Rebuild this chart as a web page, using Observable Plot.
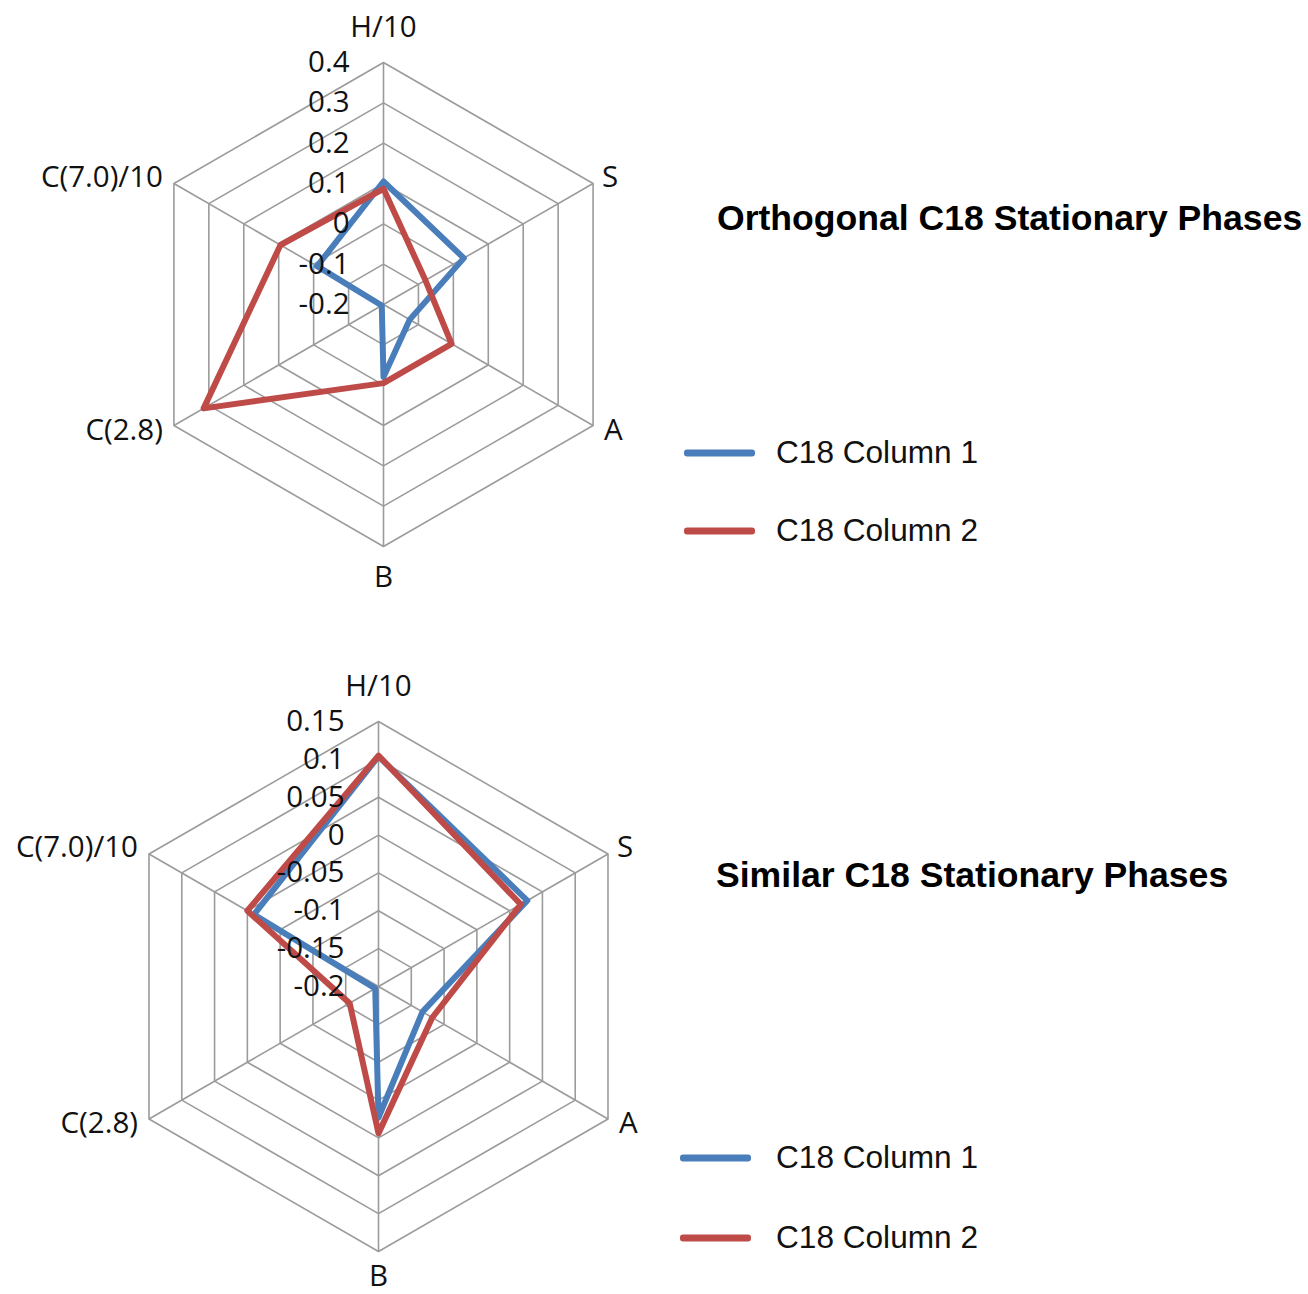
<!DOCTYPE html>
<html><head><meta charset="utf-8">
<script src="https://cdn.jsdelivr.net/npm/d3@7"></script>
<script src="https://cdn.jsdelivr.net/npm/@observablehq/plot@0.6"></script>
<style>
body{margin:0;background:#fff;}
#root{position:relative;width:1308px;height:1294px;overflow:hidden;background:#fff;}
.panel{position:absolute;left:0;}
.title{position:absolute;font-family:"Liberation Sans",Arial,sans-serif;font-weight:bold;font-size:35.6px;line-height:1;white-space:nowrap;color:#000;transform:translateY(-50%);}
.legend{position:absolute;font-family:"Liberation Sans",Arial,sans-serif;font-size:31.6px;line-height:1;color:#111;white-space:nowrap;transform:translateY(-50%);}
.swatch{position:absolute;height:7px;border-radius:3px;transform:translateY(-50%);}
</style></head><body><div id="root"></div>
<script>
// ---- data ----
const axes = ["H/10", "S", "A", "B", "C(2.8)", "C(7.0)/10"];
const seriesNames = ["C18 Column 1", "C18 Column 2"];
const titles = ["Orthogonal C18 Stationary Phases", "Similar C18 Stationary Phases"];

const orthoCol1 = [0.105, 0.03, -0.125, -0.02, -0.195, -0.01];
const orthoCol2 = [0.087, -0.08, -0.005, -0.005, 0.315, 0.095];
const orthoTicks = [-0.2, -0.1, 0, 0.1, 0.2, 0.3, 0.4];
const orthoTickLabels = ["-0.2", "-0.1", "0", "0.1", "0.2", "0.3", "0.4"];

const similarCol1 = [0.104, 0.027, -0.133, -0.027, -0.195, -0.01];
const similarCol2 = [0.105, 0.017, -0.118, -0.006, -0.156, 0.0];
const similarTicks = [-0.2, -0.15, -0.1, -0.05, 0, 0.05, 0.1, 0.15];
const similarTickLabels = ["-0.2", "-0.15", "-0.1", "-0.05", "0", "0.05", "0.1", "0.15"];

const colors = ["#4a7ebb", "#be4b48"];

// ---- layout ----
const panels = [
  {top: 0, W: 660, H: 620, cx: 383, cy: 304, R: 242, ticks: orthoTicks, tickLabels: orthoTickLabels,
   series: [orthoCol1, orthoCol2], title: titles[0], titleX: 717, titleY: 219,
   legend: [{lx1: 684, lx2: 755, y: 453}, {lx1: 684, lx2: 755, y: 531}], textX: 776, bDy: 31},
  {top: 650, W: 660, H: 644, cx: 378, cy: 336, R: 265, ticks: similarTicks, tickLabels: similarTickLabels,
   series: [similarCol1, similarCol2], title: titles[1], titleX: 716, titleY: 876,
   legend: [{lx1: 680, lx2: 751, y: 1158}, {lx1: 680, lx2: 751, y: 1238}], textX: 776, bDy: 25}
];

const labelPos = [
  {dx: 0, dy: -35, anchor: "middle"},
  {dx: 9, dy: -6, anchor: "start"},
  {dx: 11, dy: 5, anchor: "start"},
  {dx: 0, dy: 31, anchor: "middle"},
  {dx: -11, dy: 5, anchor: "end"},
  {dx: -11, dy: -6, anchor: "end"}
];

const font = "Open Sans";
const root = document.getElementById("root");

function drawRadar(p) {
  const min = p.ticks[0], max = p.ticks[p.ticks.length - 1];
  const k = p.R / (max - min);
  const ang = i => i * Math.PI / 3;
  const pt = (v, i) => ({x: (v - min) * Math.sin(ang(i)), y: (v - min) * Math.cos(ang(i))});

  const rings = [];
  p.ticks.slice(1).forEach(t => axes.forEach((a, i) => rings.push({...pt(t, i), t})));
  const spokes = axes.map((a, i) => ({...pt(max, i), a}));
  const lines = p.series.map((vals, s) => vals.map((v, i) => ({...pt(v, i), s: seriesNames[s]})));
  const ticksData = p.ticks.map((t, j) => ({x: 0, y: t - min, label: p.tickLabels[j]}));

  const marks = [
    Plot.line(rings, {x: "x", y: "y", z: "t", curve: "linear-closed", stroke: "#9b9b9b", strokeWidth: 1.6}),
    Plot.link(spokes, {x1: () => 0, y1: () => 0, x2: "x", y2: "y", stroke: "#9b9b9b", strokeWidth: 1.6}),
    ...lines.map((l, s) => Plot.line(l, {x: "x", y: "y", curve: "linear-closed", stroke: colors[s],
      strokeWidth: 6, strokeLinejoin: "round"})),
    Plot.text(ticksData, {x: "x", y: "y", text: "label", textAnchor: "end", dx: -34, fontSize: 29.5,
      fontFamily: font, fill: "#111"}),
    ...axes.map((a, i) => Plot.text([{...spokes[i]}], {x: "x", y: "y", text: () => a,
      textAnchor: labelPos[i].anchor, dx: labelPos[i].dx, dy: i === 3 ? p.bDy : labelPos[i].dy, fontSize: 29.5,
      fontFamily: font, fill: "#111"}))
  ];

  const chart = Plot.plot({
    width: p.W, height: p.H, margin: 0,
    x: {domain: [-p.cx / k, (p.W - p.cx) / k], axis: null},
    y: {domain: [-(p.H - p.cy) / k, p.cy / k], axis: null},
    style: {background: "transparent", overflow: "visible"},
    marks
  });
  const wrap = document.createElement("div");
  wrap.className = "panel";
  wrap.style.top = p.top + "px";
  wrap.appendChild(chart);
  root.appendChild(wrap);

  const t = document.createElement("div");
  t.className = "title";
  t.style.left = p.titleX + "px";
  t.style.top = p.titleY + "px";
  t.textContent = p.title;
  root.appendChild(t);

  p.legend.forEach((L, s) => {
    const sw = document.createElement("div");
    sw.className = "swatch";
    sw.style.left = L.lx1 + "px";
    sw.style.width = (L.lx2 - L.lx1) + "px";
    sw.style.top = L.y + "px";
    sw.style.background = colors[s];
    root.appendChild(sw);
    const tx = document.createElement("div");
    tx.className = "legend";
    tx.style.left = p.textX + "px";
    tx.style.top = L.y + "px";
    tx.textContent = seriesNames[s];
    root.appendChild(tx);
  });
}
panels.forEach(drawRadar);
</script></body></html>
